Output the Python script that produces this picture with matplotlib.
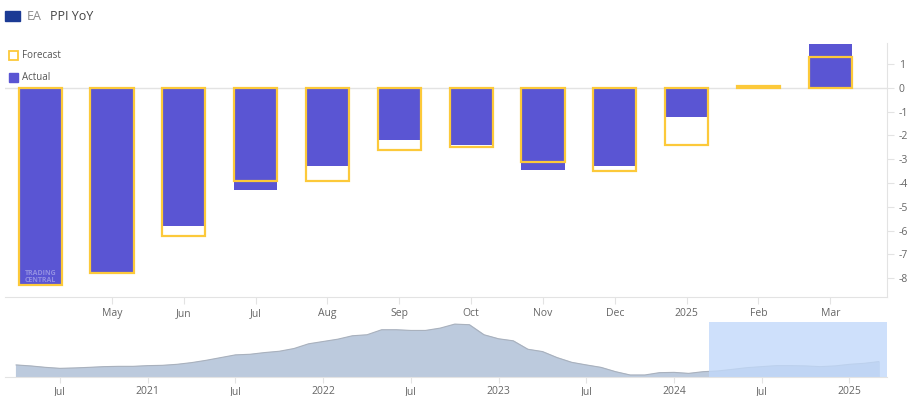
import numpy as np
import matplotlib
matplotlib.use("Agg")
import matplotlib.pyplot as plt
from matplotlib.patches import Rectangle

plt.rcParams['font.family'] = ['Open Sans', 'DejaVu Sans']
plt.rcParams['axes.unicode_minus'] = False

# main chart data (Apr 2024 - Mar 2025)
months = ["", "May", "Jun", "Jul", "Aug", "Sep", "Oct", "Nov", "Dec", "2025", "Feb", "Mar"]
actual = [-8.3, -7.8, -5.8, -4.3, -3.3, -2.2, -2.4, -3.45, -3.3, -1.25, np.nan, 1.85]
forecast = [-8.3, -7.8, -6.25, -3.9, -3.9, -2.6, -2.5, -3.1, -3.5, -2.4, 0.08, 1.3]

# navigator history, monthly from Apr 2020 to Mar 2025
nav_values = [11.7, 10.7, 9.3, 8.3, 8.7, 9.3, 10.0, 10.3, 10.3, 11.0, 11.3, 12.3,
              14.0, 16.3, 19.0, 21.7, 22.3, 24.0, 25.3, 28.0, 32.7, 35.0, 37.3, 40.7,
              41.7, 46.7, 46.7, 46.0, 46.0, 48.3, 52.3, 51.7, 41.7, 37.7, 35.7, 27.3,
              25.0, 19.0, 14.3, 11.7, 9.3, 5.0, 1.7, 1.7, 4.0, 4.3, 3.3, 5.0,
              5.7, 7.3, 9.0, 10.0, 11.0, 11.0, 10.7, 10.0, 10.7, 12.3, 13.3, 15.0]
nav_ticks = [6, 12, 18, 24, 30, 36, 42, 48, 54, 60]
nav_labels = ["Jul", "2021", "Jul", "2022", "Jul", "2023", "Jul", "2024", "Jul", "2025"]

W, H = 914, 396
fig = plt.figure(figsize=(W / 100, H / 100), dpi=100)

def px_axes(x0, y0, x1, y1):
    return fig.add_axes([x0 / W, 1 - y1 / H, (x1 - x0) / W, (y1 - y0) / H])

purple = "#5a55d3"
yellow = "#fcc93a"
grey_txt = "#666666"
line_col = "#e3e3e3"

ax = px_axes(5, 43, 887, 296.7)
x = np.arange(len(months))
ax.bar(x, actual, width=0.6, color=purple, zorder=2)
ax.bar(x, forecast, width=0.6, facecolor="none", edgecolor=yellow, linewidth=1.6, zorder=3)
ax.axhline(0, color=line_col, lw=1, zorder=1)
ax.set_xlim(-0.49, 11.79)
ax.set_ylim(-8.78, 1.88)
ax.yaxis.tick_right()
ax.set_yticks(range(-8, 2))
ax.set_xticks(x[1:])
ax.set_xticklabels(months[1:])
for s in ["top", "left"]:
    ax.spines[s].set_visible(False)
for s in ["bottom", "right"]:
    ax.spines[s].set_color(line_col)
ax.tick_params(colors=line_col, labelcolor=grey_txt, labelsize=7.5, length=5)
ax.tick_params(axis="x", pad=3)

# faint watermark
ax.text(0.0, -7.95, "TRADING\nCENTRAL", color="white", alpha=0.35, fontsize=5,
        ha="center", va="center", fontweight="bold", zorder=4, linespacing=0.9)

# title and legend
fig.patches.append(Rectangle((5 / W, 1 - 21 / H), 15 / W, 10 / H, transform=fig.transFigure,
                             color="#1b3a94"))
fig.text(27 / W, 1 - 16 / H, "EA", color="#8a8a8a", fontsize=9, va="center")
fig.text(50 / W, 1 - 16 / H, "PPI YoY", color="#444444", fontsize=9, va="center")
fig.patches.append(Rectangle((9 / W, 1 - 60 / H), 9 / W, 9 / H, transform=fig.transFigure,
                             facecolor="white", edgecolor=yellow, lw=1.3))
fig.text(22 / W, 1 - 55.5 / H, "Forecast", color="#555555", fontsize=7, va="center")
fig.patches.append(Rectangle((9 / W, 1 - 82 / H), 9 / W, 9 / H, transform=fig.transFigure,
                             color=purple))
fig.text(22 / W, 1 - 77.5 / H, "Actual", color="#555555", fontsize=7, va="center")

# navigator
nav = px_axes(5, 322, 887, 376.7)
t = np.arange(3, 3 + len(nav_values))
nav.fill_between(t, nav_values, 0, color="#bccadd", zorder=1)
nav.plot(t, nav_values, color="#a9b1bd", lw=0.8, zorder=2)
nav.add_patch(Rectangle((50.4, 0), 62.57 - 50.4, 54.4, color="#c2d9fa", alpha=0.8, lw=0, zorder=3))
nav.set_xlim(2.24, 62.57)
nav.set_ylim(0, 54.4)
nav.set_yticks([])
nav.set_xticks(nav_ticks)
nav.set_xticklabels(nav_labels)
for s in ["top", "left", "right"]:
    nav.spines[s].set_visible(False)
nav.spines["bottom"].set_color(line_col)
nav.tick_params(colors=line_col, labelcolor=grey_txt, labelsize=7.5, length=4, pad=3)

fig.savefig("out.png", dpi=100)
